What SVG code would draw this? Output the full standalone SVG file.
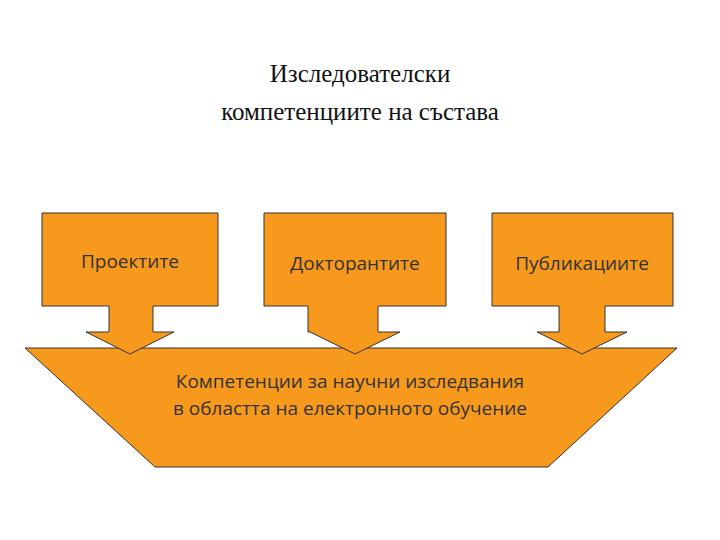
<svg xmlns="http://www.w3.org/2000/svg" width="720" height="540" viewBox="0 0 720 540">
<style>
.s{fill:#F7991C;stroke:#333;stroke-width:1}
.t{font-family:"Open Sans","Noto Sans",sans-serif;font-size:19px;fill:#333;text-anchor:middle}
.h{font-family:"Liberation Serif",serif;font-size:25px;fill:#111;text-anchor:middle}
</style>
<rect width="720" height="540" fill="#fff"/>
<text class="h" x="360" y="82">Изследователски</text>
<text class="h" x="360" y="120">компетенциите на състава</text>
<g id="base"><polygon class="s" points="25,348 677,348 548,467 155,467"/>
<text class="t" x="350" y="388">Компетенции за научни изследвания</text>
<text class="t" x="350" y="415">в областта на електронното обучение</text></g>
<g id="connectors">
<g id="n1"><polygon class="s" points="42,213 218,213 218,306 153,306 153,332 174,332 130,354 86,332 109,332 109,306 42,306"/>
<text class="t" x="130" y="268">Проектите</text></g>
<g id="n2"><polygon class="s" points="264,213 446,213 446,306 378,306 378,332 400,332 355,354 310,332 308,332 308,306 264,306"/>
<text class="t" x="355" y="270">Докторантите</text></g>
<g id="n3"><polygon class="s" points="492,213 673,213 673,306 605,306 605,332 627,332 582,354 537,332 559,332 559,306 492,306"/>
<text class="t" x="582" y="270">Публикациите</text></g>
</g>
</svg>
